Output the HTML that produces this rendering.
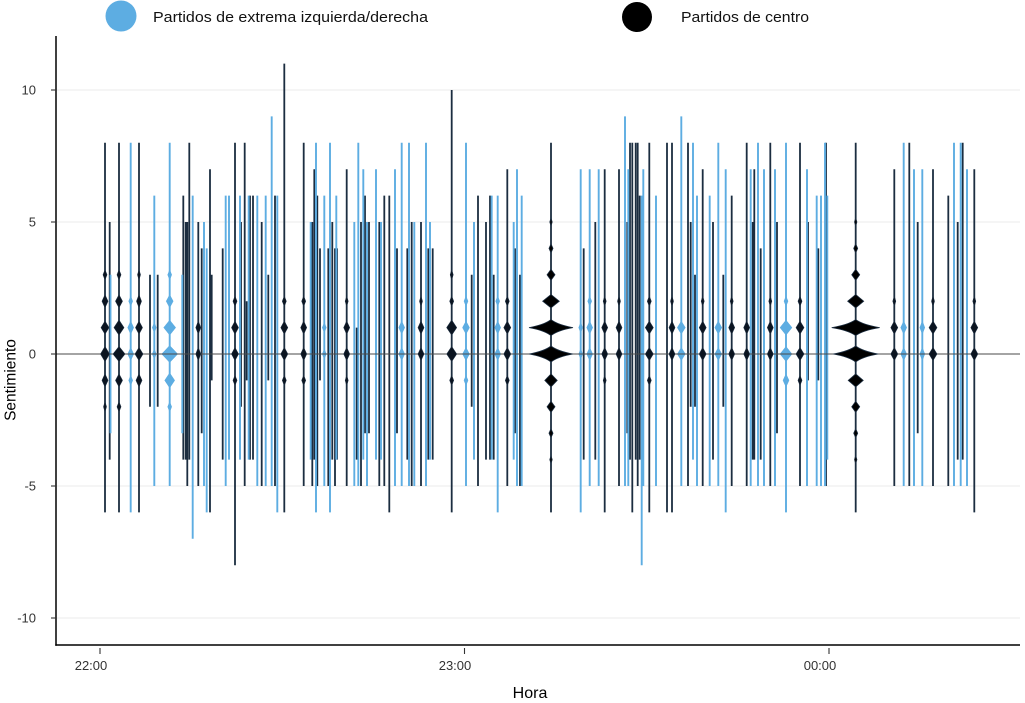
<!DOCTYPE html>
<html><head><meta charset="utf-8"><style>
html,body{margin:0;padding:0;background:#fff;}
svg{display:block;}
text{font-family:"Liberation Sans",Arial,sans-serif;}
</style></head><body>
<svg width="1025" height="703" viewBox="0 0 1025 703" xmlns="http://www.w3.org/2000/svg">
<rect width="1025" height="703" fill="#fff"/>
<!-- legend -->
<circle cx="121" cy="16" r="15.5" fill="#5dade2"/>
<text x="153" y="22" font-size="15" fill="#111" textLength="275" lengthAdjust="spacingAndGlyphs">Partidos de extrema izquierda/derecha</text>
<circle cx="637" cy="17" r="15" fill="#000"/>
<text x="681" y="22" font-size="15" fill="#111" textLength="128" lengthAdjust="spacingAndGlyphs">Partidos de centro</text>
<!-- grid -->
<g stroke="#ebebeb" stroke-width="1">
<line x1="57" y1="90" x2="1020" y2="90"/>
<line x1="57" y1="222" x2="1020" y2="222"/>
<line x1="57" y1="486" x2="1020" y2="486"/>
<line x1="57" y1="618" x2="1020" y2="618"/>
</g>
<!-- dark lines -->
<path fill="none" stroke="#1b2d40" stroke-width="1.8" d="M105 142.8V512.4M109.7 222V459.6M119 142.8V512.4M139 142.8V512.4M150 274.8V406.8M157.7 274.8V406.8M183.3 195.6V459.6M185.7 222V459.6M187.3 222V486M189.3 142.8V459.6M198.3 222V486M201.7 248.4V433.2M210 169.2V512.4M211.7 274.8V380.4M222.7 248.4V459.6M235 142.8V565.2M241 222V406.8M244.7 142.8V486M246.7 301.2V380.4M250 195.6V459.6M253 195.6V459.6M261.7 222V486M268.3 274.8V380.4M275 195.6V486M284.3 63.6V512.4M303.7 142.8V486M312.3 222V486M314.3 169.2V459.6M317.3 195.6V486M320 248.4V380.4M328.3 248.4V486M332.3 222V459.6M335 248.4V486M337 248.4V459.6M346.7 169.2V486M356.7 327.6V459.6M361 222V486M365 195.6V433.2M369 222V433.2M379.3 222V486M384.3 195.6V486M389.3 195.6V512.4M397 248.4V433.2M407.3 248.4V459.6M411.7 222V486M421 222V486M428.3 248.4V459.6M432.7 248.4V459.6M451.7 90V512.4M471.7 274.8V406.8M478 195.6V486M486 222V459.6M490 195.6V459.6M493.7 274.8V459.6M507.3 169.2V486M515 248.4V433.2M520 274.8V486M551 142.8V512.4M583.7 248.4V459.6M595.3 222V459.6M604.7 169.2V512.4M619 169.2V486M627.3 222V433.2M630 142.8V459.6M632.3 142.8V512.4M635.7 142.8V459.6M637.7 142.8V486M639.7 195.6V459.6M649.3 142.8V512.4M667 142.8V512.4M672 142.8V512.4M688 142.8V486M690.7 222V406.8M695 274.8V406.8M702.7 169.2V486M713 222V459.6M723.3 274.8V406.8M731.7 195.6V486M746.7 142.8V486M752.7 222V459.6M754.3 169.2V459.6M760.7 248.4V459.6M770.3 142.8V486M777 222V433.2M800 142.8V486M808 222V380.4M818.3 248.4V380.4M826 142.8V486M855.7 142.8V512.4M894.3 169.2V486M909.3 142.8V486M917.7 222V433.2M933 169.2V486M948.3 195.6V486M957.7 222V459.6M962.7 142.8V459.6M974.3 169.2V512.4"/>
<!-- blue lines -->
<path fill="none" stroke="#5dade2" stroke-width="1.9" d="M110.5 274.8V433.2M130.7 142.8V512.4M154.3 195.6V486M169.7 142.8V486M182.3 274.8V433.2M192.7 195.6V538.8M204 222V486M206.7 248.4V512.4M225.7 195.6V486M229 195.6V459.6M240 195.6V459.6M248.7 195.6V459.6M257.3 195.6V486M265.7 195.6V486M271.7 116.4V486M277.3 195.6V512.4M310.7 222V459.6M316 142.8V512.4M324.3 195.6V486M330 142.8V512.4M336.3 195.6V459.6M354.3 222V486M358.3 142.8V486M363.3 169.2V459.6M367 222V486M376 169.2V459.6M381 222V459.6M395 169.2V486M401.7 142.8V486M409 142.8V486M414.3 222V486M426 142.8V486M430 222V459.6M466 142.8V486M474 222V459.6M491.7 195.6V459.6M497.7 195.6V512.4M513.7 222V459.6M517 169.2V486M521.7 195.6V486M580.7 169.2V512.4M589.7 169.2V486M598.7 169.2V486M625 116.4V486M628.3 169.2V486M641.7 195.6V565.2M643.3 169.2V486M656 195.6V486M681.3 116.4V486M693 142.8V459.6M697 195.6V486M709.7 195.6V486M718.3 142.8V486M725.7 169.2V512.4M750.7 169.2V486M758 142.8V486M764 169.2V486M775 169.2V486M786 142.8V512.4M807 169.2V486M816.7 195.6V486M821 195.6V486M825 142.8V486M827.3 195.6V459.6M903.7 142.8V486M914 169.2V486M922.3 169.2V486M954 142.8V486M960.7 142.8V486M967 169.2V486"/>
<!-- blue diamonds -->
<path fill="#5dade2" stroke="#5dade2" stroke-width="0.5" d="
M127.7 354l3 -6.5 3 6.5 -3 6.5zM127.7 327.6l3 -6.5 3 6.5 -3 6.5zM128.7 380.4l2 -5 2 5 -2 5zM128.7 301.2l2 -5 2 5 -2 5z
M152.3 354l2 -5 2 5 -2 5zM152.3 327.6l2 -5 2 5 -2 5z
M161.7 354l8 -8.5 8 8.5 -8 8.5zM163.7 327.6l6 -7.5 6 7.5 -6 7.5zM164.7 380.4l5 -7.5 5 7.5 -5 7.5zM166.2 301.2l3.5 -6.5 3.5 6.5 -3.5 6.5zM167.7 274.8l2 -5 2 5 -2 5zM167.7 406.8l2 -5 2 5 -2 5z
M322.3 354l2 -5 2 5 -2 5zM322.3 327.6l2 -5 2 5 -2 5z
M398.7 354l3 -6.5 3 6.5 -3 6.5zM398.7 327.6l3 -6.5 3 6.5 -3 6.5z
M462.5 354l3.5 -6.5 3.5 6.5 -3.5 6.5zM462.5 327.6l3.5 -6.5 3.5 6.5 -3.5 6.5zM464 301.2l2 -5 2 5 -2 5zM464 380.4l2 -5 2 5 -2 5z
M494.7 354l3 -6.5 3 6.5 -3 6.5zM494.7 327.6l3 -6.5 3 6.5 -3 6.5zM495.7 301.2l2 -5 2 5 -2 5z
M578.7 354l2 -5 2 5 -2 5zM578.7 327.6l2 -5 2 5 -2 5z
M586.7 354l3 -6.5 3 6.5 -3 6.5zM586.7 327.6l3 -6.5 3 6.5 -3 6.5zM587.7 301.2l2 -5 2 5 -2 5z
M677.3 354l4 -6.5 4 6.5 -4 6.5zM677.3 327.6l4 -6.5 4 6.5 -4 6.5z
M714.8 354l3.5 -6.5 3.5 6.5 -3.5 6.5zM714.8 327.6l3.5 -6.5 3.5 6.5 -3.5 6.5z
M780 354l6 -7.5 6 7.5 -6 7.5zM780 327.6l6 -7.5 6 7.5 -6 7.5zM783 380.4l3 -6.5 3 6.5 -3 6.5zM784 301.2l2 -5 2 5 -2 5z
M900.7 354l3 -6.5 3 6.5 -3 6.5zM900.7 327.6l3 -6.5 3 6.5 -3 6.5z
M919.8 354l2.5 -6.5 2.5 6.5 -2.5 6.5zM919.8 327.6l2.5 -6.5 2.5 6.5 -2.5 6.5z"/>
<!-- zero line -->
<line x1="56" y1="354" x2="1020" y2="354" stroke="#4a4a4a" stroke-width="1.1"/>
<!-- dark diamonds -->
<path fill="#0b1420" stroke="#1b2d40" stroke-width="0.6" d="
M100.5 354l4.5 -7.5 4.5 7.5 -4.5 7.5zM101 327.6l4 -6.5 4 6.5 -4 6.5zM102 380.4l3 -6.5 3 6.5 -3 6.5zM102 301.2l3 -6.5 3 6.5 -3 6.5zM103 274.8l2 -5 2 5 -2 5zM103.5 406.8l1.5 -5 1.5 5 -1.5 5z
M113 354l6 -7.5 6 7.5 -6 7.5zM114 327.6l5 -7.5 5 7.5 -5 7.5zM115.5 380.4l3.5 -6.5 3.5 6.5 -3.5 6.5zM115.5 301.2l3.5 -6.5 3.5 6.5 -3.5 6.5zM117 274.8l2 -5 2 5 -2 5zM117 406.8l2 -5 2 5 -2 5z
M135 354l4 -6.5 4 6.5 -4 6.5zM135.5 327.6l3.5 -6.5 3.5 6.5 -3.5 6.5zM136 380.4l3 -6.5 3 6.5 -3 6.5zM136.5 301.2l2.5 -6.5 2.5 6.5 -2.5 6.5zM137.5 274.8l1.5 -5 1.5 5 -1.5 5z
M195.8 354l2.5 -6.5 2.5 6.5 -2.5 6.5zM195.8 327.6l2.5 -6.5 2.5 6.5 -2.5 6.5z
M231.5 354l3.5 -6.5 3.5 6.5 -3.5 6.5zM231.5 327.6l3.5 -6.5 3.5 6.5 -3.5 6.5zM233 380.4l2 -5 2 5 -2 5zM233 301.2l2 -5 2 5 -2 5z
M280.8 354l3.5 -6.5 3.5 6.5 -3.5 6.5zM280.8 327.6l3.5 -6.5 3.5 6.5 -3.5 6.5zM282.3 380.4l2 -5 2 5 -2 5zM282.3 301.2l2 -5 2 5 -2 5z
M300.7 354l3 -6.5 3 6.5 -3 6.5zM300.7 327.6l3 -6.5 3 6.5 -3 6.5zM301.7 380.4l2 -5 2 5 -2 5zM301.7 301.2l2 -5 2 5 -2 5z
M343.7 354l3 -6.5 3 6.5 -3 6.5zM343.7 327.6l3 -6.5 3 6.5 -3 6.5zM345.2 380.4l1.5 -5 1.5 5 -1.5 5zM345.2 301.2l1.5 -5 1.5 5 -1.5 5z
M418 354l3 -6.5 3 6.5 -3 6.5zM418 327.6l3 -6.5 3 6.5 -3 6.5zM419.5 301.2l1.5 -5 1.5 5 -1.5 5z
M446.7 354l5 -7.5 5 7.5 -5 7.5zM446.7 327.6l5 -7.5 5 7.5 -5 7.5zM449.7 380.4l2 -5 2 5 -2 5zM449.7 301.2l2 -5 2 5 -2 5zM450.2 274.8l1.5 -5 1.5 5 -1.5 5z
M503.8 354l3.5 -6.5 3.5 6.5 -3.5 6.5zM503.8 327.6l3.5 -6.5 3.5 6.5 -3.5 6.5zM505.3 380.4l2 -5 2 5 -2 5zM505.3 301.2l2 -5 2 5 -2 5z
M601.7 354l3 -6.5 3 6.5 -3 6.5zM601.7 327.6l3 -6.5 3 6.5 -3 6.5zM603.2 301.2l1.5 -5 1.5 5 -1.5 5zM603.2 380.4l1.5 -5 1.5 5 -1.5 5z
M616 354l3 -6.5 3 6.5 -3 6.5zM616 327.6l3 -6.5 3 6.5 -3 6.5zM617.5 301.2l1.5 -5 1.5 5 -1.5 5z
M645.3 354l4 -6.5 4 6.5 -4 6.5zM645.3 327.6l4 -6.5 4 6.5 -4 6.5zM647.3 301.2l2 -5 2 5 -2 5zM647.3 380.4l2 -5 2 5 -2 5z
M669 354l3 -6.5 3 6.5 -3 6.5zM669 327.6l3 -6.5 3 6.5 -3 6.5zM670.5 301.2l1.5 -5 1.5 5 -1.5 5z
M699.2 354l3.5 -6.5 3.5 6.5 -3.5 6.5zM699.2 327.6l3.5 -6.5 3.5 6.5 -3.5 6.5zM701.2 301.2l1.5 -5 1.5 5 -1.5 5z
M728.7 354l3 -6.5 3 6.5 -3 6.5zM728.7 327.6l3 -6.5 3 6.5 -3 6.5zM730.2 301.2l1.5 -5 1.5 5 -1.5 5z
M743.7 354l3 -6.5 3 6.5 -3 6.5zM743.7 327.6l3 -6.5 3 6.5 -3 6.5z
M767.3 354l3 -6.5 3 6.5 -3 6.5zM767.3 327.6l3 -6.5 3 6.5 -3 6.5zM768.8 301.2l1.5 -5 1.5 5 -1.5 5z
M796 354l4 -6.5 4 6.5 -4 6.5zM796 327.6l4 -6.5 4 6.5 -4 6.5zM798 380.4l2 -5 2 5 -2 5zM798 301.2l2 -5 2 5 -2 5z
M890.8 354l3.5 -6.5 3.5 6.5 -3.5 6.5zM890.8 327.6l3.5 -6.5 3.5 6.5 -3.5 6.5zM892.8 301.2l1.5 -5 1.5 5 -1.5 5z
M929 354l4 -6.5 4 6.5 -4 6.5zM929 327.6l4 -6.5 4 6.5 -4 6.5zM931.5 301.2l1.5 -5 1.5 5 -1.5 5z
M970.8 354l3.5 -6.5 3.5 6.5 -3.5 6.5zM970.8 327.6l3.5 -6.5 3.5 6.5 -3.5 6.5zM972.8 301.2l1.5 -5 1.5 5 -1.5 5z"/>
<!-- big violins -->
<path fill="#000" stroke="#1b2d40" stroke-width="0.8" d="
M529 354Q544.4 351.2 551 346Q557.6 351.2 573 354Q557.6 356.8 551 362Q544.4 356.8 529 354Z
M529 327.6Q544.4 324.8 551 319.6Q557.6 324.8 573 327.6Q557.6 330.4 551 335.6Q544.4 330.4 529 327.6Z
M542.7 301.2l8.3 -6.7 8.3 6.7 -8.3 6.7zM544.8 380.4l6.2 -6.5 6.2 6.5 -6.2 6.5zM547 274.8l4 -5.5 4 5.5 -4 5.5zM547 406.8l4 -5.5 4 5.5 -4 5.5zM549 248.4l2 -4.5 2 4.5 -2 4.5zM549 433.2l2 -4.5 2 4.5 -2 4.5zM549.8 222l1.2 -4 1.2 4 -1.2 4zM549.8 459.6l1.2 -4 1.2 4 -1.2 4z
M833.2 354Q848.9 351.2 855.7 346Q862.5 351.2 878.2 354Q862.5 356.8 855.7 362Q848.9 356.8 833.2 354Z
M831.7 327.6Q848.5 324.8 855.7 319.6Q862.9 324.8 879.7 327.6Q862.9 330.4 855.7 335.6Q848.5 330.4 831.7 327.6Z
M847.7 301.2l8 -6.7 8 6.7 -8 6.7zM848.2 380.4l7.5 -6.5 7.5 6.5 -7.5 6.5zM851.7 274.8l4 -5.5 4 5.5 -4 5.5zM851.7 406.8l4 -5.5 4 5.5 -4 5.5zM853.7 248.4l2 -4.5 2 4.5 -2 4.5zM853.7 433.2l2 -4.5 2 4.5 -2 4.5zM854.5 222l1.2 -4 1.2 4 -1.2 4zM854.5 459.6l1.2 -4 1.2 4 -1.2 4z"/>
<!-- axes -->
<line x1="56" y1="36" x2="56" y2="645.7" stroke="#000" stroke-width="1.5"/>
<line x1="55.3" y1="645" x2="1020" y2="645" stroke="#000" stroke-width="1.5"/>
<g stroke="#333" stroke-width="1.1">
<line x1="51" y1="90" x2="56" y2="90"/>
<line x1="51" y1="222" x2="56" y2="222"/>
<line x1="51" y1="354" x2="56" y2="354"/>
<line x1="51" y1="486" x2="56" y2="486"/>
<line x1="51" y1="618" x2="56" y2="618"/>
<line x1="100" y1="648" x2="100" y2="654"/>
<line x1="464.5" y1="648" x2="464.5" y2="654"/>
<line x1="829" y1="648" x2="829" y2="654"/>
</g>
<g font-size="13" fill="#333" text-anchor="end">
<text x="36" y="94.5">10</text>
<text x="36" y="226.5">5</text>
<text x="36" y="358.5">0</text>
<text x="36" y="490.5">-5</text>
<text x="36" y="622.5">-10</text>
</g>
<g font-size="13" fill="#333" text-anchor="middle">
<text x="91" y="670">22:00</text>
<text x="455" y="670">23:00</text>
<text x="820" y="670">00:00</text>
</g>
<text x="530" y="698" font-size="16" fill="#000" text-anchor="middle">Hora</text>
<text transform="translate(15.5,380) rotate(-90)" font-size="15.5" fill="#000" text-anchor="middle">Sentimiento</text>
</svg>
</body></html>
